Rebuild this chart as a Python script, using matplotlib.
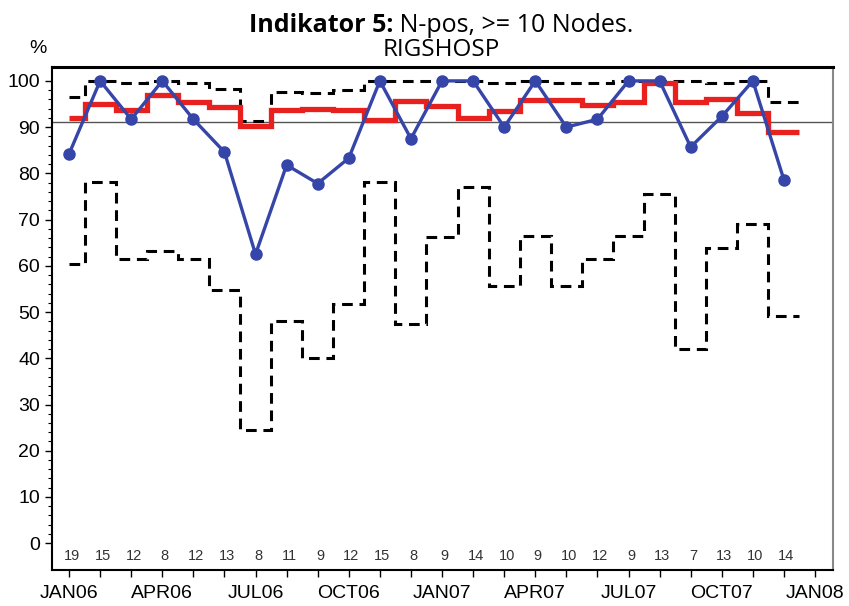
import matplotlib.pyplot as plt
import numpy as np

months = ["JAN06", "FEB06", "MAR06", "APR06", "MAY06", "JUN06", "JUL06", "AUG06",
          "SEP06", "OCT06", "NOV06", "DEC06", "JAN07", "FEB07", "MAR07", "APR07",
          "MAY07", "JUN07", "JUL07", "AUG07", "SEP07", "OCT07", "NOV07", "DEC07"]
tick_labels = ["JAN06", "APR06", "JUL06", "OCT06", "JAN07", "APR07", "JUL07", "OCT07", "JAN08"]

# monthly percentage (blue)
pct = [84.2, 100, 91.7, 100, 91.7, 84.6, 62.5, 81.8, 77.8, 83.3, 100, 87.5,
       100, 100, 90.0, 100, 90.0, 91.7, 100, 100, 85.7, 92.3, 100, 78.6]
# centre line (red)
centre = [91.9, 95.0, 93.6, 97.0, 95.4, 94.4, 90.3, 93.6, 93.9, 93.6, 91.6, 95.7,
          94.6, 91.9, 93.4, 95.9, 95.9, 94.8, 95.5, 99.5, 95.5, 96.0, 93.0, 89.0]
# upper / lower limits (dashed)
upper = [96.6, 100, 99.6, 100, 99.6, 98.2, 91.3, 97.7, 97.3, 98.1, 100, 100,
         100, 100, 99.5, 100, 99.5, 99.5, 100, 100, 100, 99.5, 100, 95.4]
lower = [60.4, 78.2, 61.4, 63.2, 61.4, 54.8, 24.5, 48.1, 40.1, 51.7, 78.2, 47.4,
         66.3, 77.1, 55.6, 66.4, 55.6, 61.4, 66.4, 75.5, 42.1, 63.9, 69.0, 49.1]
counts = [19, 15, 12, 8, 12, 13, 8, 11, 9, 12, 15, 8,
          9, 14, 10, 9, 10, 12, 9, 13, 7, 13, 10, 14]
target = 91.0

x = np.arange(len(months))
edges = np.concatenate(([x[0]], x[:-1] + 0.5, [x[-1] + 0.5]))

plt.rcParams['font.family'] = ['Liberation Sans', 'DejaVu Sans']

fig = plt.figure(figsize=(8.49, 6.06), dpi=100)
ax = fig.add_axes([0.0612, 0.0594, 0.92, 0.83])

ax.axhline(target, color='#555555', lw=1.0, zorder=1)
ax.stairs(upper, edges, color='black', lw=2.2, linestyle=(0, (3.5, 2.2)), baseline=None, zorder=2)
ax.stairs(lower, edges, color='black', lw=2.2, linestyle=(0, (3.5, 2.2)), baseline=None, zorder=2)
ax.stairs(centre, edges, color='#e8201e', lw=3.8, baseline=None, zorder=3)
ax.plot(x, pct, color='#3545a8', lw=2.4, marker='o', ms=8, zorder=4)

for xi, n in zip(x, counts):
    ax.text(xi + 0.08, -2.8, str(n), ha='center', va='center', fontsize=10.5, color='#333333')

ax.set_xlim(-0.55, 24.58)
ax.set_ylim(-5.8, 103)
ax.set_xticks(np.arange(0, 25, 3))
ax.set_xticklabels(tick_labels, fontsize=14)
ax.set_xticks(np.arange(0, 25, 1), minor=True)
ax.set_yticks(np.arange(0, 101, 10))
ax.set_yticks(np.arange(0, 101, 2), minor=True)
ax.tick_params(axis='y', labelsize=14, length=5, width=1)
ax.tick_params(axis='y', which='minor', length=3, width=0.8)
ax.tick_params(axis='x', length=5, width=1, pad=6)
ax.tick_params(axis='x', which='minor', length=5, width=1)

for s in ['left', 'bottom']:
    ax.spines[s].set_linewidth(1.5)
ax.spines['top'].set_linewidth(2.2)
ax.spines['right'].set_color('#888888')
ax.spines['right'].set_linewidth(1.5)

fig.text(0.045, 0.92, '%', fontsize=14, ha='center', va='center')

# title: bold part followed by regular part, centred as a whole
bold = fig.text(0, 0.958, 'Indikator 5:', fontsize=18, ha='left', va='center',
                family='Open Sans', fontweight='bold')
rest = fig.text(0, 0.958, ' N-pos, >= 10 Nodes.', fontsize=18, ha='left', va='center',
                family='Open Sans')
r = fig.canvas.get_renderer()
wb = bold.get_window_extent(r).width / fig.bbox.width
wr = rest.get_window_extent(r).width / fig.bbox.width
x0 = 0.52 - (wb + wr) / 2
bold.set_x(x0)
rest.set_x(x0 + wb)
fig.text(0.52, 0.918, 'RIGSHOSP', fontsize=17.5, ha='center', va='center', family='Open Sans')

fig.savefig('out.png', dpi=100)
